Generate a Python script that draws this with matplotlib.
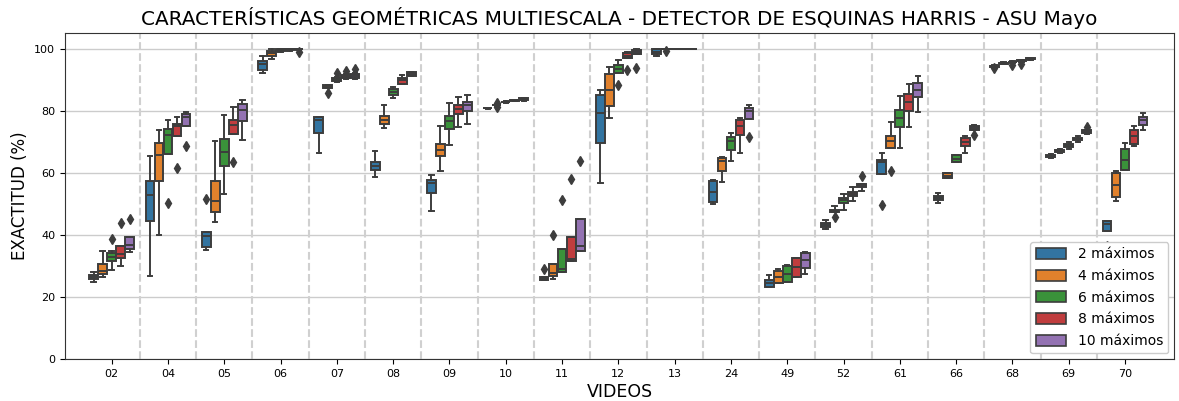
import matplotlib
matplotlib.use("Agg")
import matplotlib.pyplot as plt
from matplotlib.patches import Patch

# Videos on the x axis
videos = ["02", "04", "05", "06", "07", "08", "09", "10", "11", "12",
          "13", "24", "49", "52", "61", "66", "68", "69", "70"]

# Number of maxima per series
maxima = [2, 4, 6, 8, 10]
labels = ["2 máximos", "4 máximos", "6 máximos", "8 máximos", "10 máximos"]
colors = ["#3274a1", "#e1812c", "#3a923a", "#c03d3e", "#9372b2"]

# Box statistics per series (one value per video): lower whisker, Q1, median, Q3, upper whisker
whis_lo = {
    2:  [24.8, 26.8, 35.2, 92.2, 66.4, 58.6, 47.6, 80.6, 25.3, 56.7, 97.5, 50.0, 23.1, 42.0, 59.5, 50.2, 93.9, 64.9, 41.1],
    4:  [26.5, 40.0, 44.2, 96.7, 87.3, 74.4, 60.4, 81.6, 25.7, 77.5, 100.0, 57.0, 24.4, 47.2, 68.0, 58.3, 94.9, 66.2, 50.8],
    6:  [28.7, 66.0, 53.2, 98.9, 89.2, 84.1, 68.8, 82.6, 28.0, 92.0, 100.0, 63.7, 24.9, 48.1, 68.0, 63.3, 95.3, 67.8, 61.0],
    8:  [30.0, 71.8, 72.5, 99.3, 90.3, 88.5, 74.6, 83.0, 31.6, 96.9, 100.0, 66.5, 26.4, 51.0, 74.6, 66.4, 95.8, 69.9, 68.5],
    10: [34.6, 74.9, 70.6, 99.6, 90.3, 91.0, 75.7, 83.2, 34.8, 98.2, 100.0, 77.2, 27.3, 54.0, 79.5, 73.6, 96.4, 72.5, 73.9],
}
q1 = {
    2:  [25.9, 44.6, 36.0, 93.1, 72.8, 61.0, 53.6, 80.7, 25.3, 69.5, 98.1, 50.7, 23.3, 42.4, 59.5, 51.3, 94.1, 65.2, 41.1],
    4:  [27.4, 57.2, 47.3, 97.7, 87.3, 75.7, 65.3, 81.7, 26.8, 81.4, 100.0, 60.4, 24.4, 47.2, 68.0, 58.3, 95.0, 66.6, 52.2],
    6:  [31.6, 66.0, 62.2, 99.2, 89.4, 84.9, 74.1, 82.7, 28.0, 92.0, 100.0, 67.2, 24.9, 50.2, 74.6, 63.3, 95.5, 68.3, 61.0],
    8:  [32.5, 71.8, 72.5, 99.5, 90.5, 88.7, 78.9, 83.2, 31.6, 96.9, 100.0, 72.2, 26.4, 52.4, 80.0, 68.7, 95.9, 70.4, 69.3],
    10: [35.5, 74.9, 76.5, 99.8, 90.5, 91.0, 80.0, 83.4, 34.8, 98.2, 100.0, 77.2, 29.3, 55.3, 84.3, 73.6, 96.6, 72.9, 75.5],
}
median = {
    2:  [26.5, 52.9, 39.7, 94.9, 76.9, 62.3, 56.7, 80.8, 25.9, 79.3, 98.8, 53.8, 24.4, 43.1, 63.3, 51.9, 94.3, 65.5, 43.5],
    4:  [28.5, 65.6, 50.9, 98.4, 87.7, 77.1, 67.2, 81.8, 27.8, 86.8, 100.0, 63.9, 26.4, 47.6, 70.3, 59.1, 95.2, 67.0, 56.1],
    6:  [33.0, 72.3, 66.7, 99.5, 90.0, 85.9, 76.8, 82.8, 28.9, 93.4, 100.0, 70.1, 27.4, 51.1, 77.6, 64.4, 95.6, 68.8, 64.2],
    8:  [33.8, 74.9, 75.5, 99.7, 90.8, 89.8, 80.6, 83.3, 32.2, 97.5, 100.0, 75.2, 29.5, 53.1, 82.8, 69.9, 96.1, 70.9, 71.7],
    10: [36.8, 78.0, 80.1, 99.9, 91.2, 91.8, 81.7, 83.7, 36.5, 99.0, 100.0, 80.0, 31.9, 55.9, 86.8, 74.4, 96.7, 73.2, 76.9],
}
q3 = {
    2:  [27.0, 57.4, 41.0, 96.1, 78.0, 63.3, 57.8, 80.9, 26.5, 84.9, 99.7, 57.2, 25.3, 43.8, 64.2, 52.6, 94.5, 65.8, 44.3],
    4:  [30.5, 69.5, 57.4, 99.1, 88.2, 78.2, 69.3, 81.9, 30.5, 91.8, 100.0, 64.9, 28.2, 48.1, 71.7, 59.9, 95.4, 67.4, 59.9],
    6:  [34.1, 74.1, 71.0, 99.7, 90.5, 87.0, 78.2, 82.9, 35.5, 94.7, 100.0, 71.5, 29.8, 51.8, 80.3, 65.6, 95.8, 69.3, 67.6],
    8:  [36.5, 75.7, 77.1, 99.9, 91.6, 90.4, 81.8, 83.4, 39.3, 98.4, 100.0, 76.9, 32.4, 53.8, 85.4, 71.2, 96.3, 71.3, 73.9],
    10: [39.4, 78.9, 82.0, 100.0, 91.9, 92.4, 82.7, 84.1, 45.2, 99.5, 100.0, 81.0, 34.1, 56.5, 88.9, 75.2, 96.9, 73.6, 78.0],
}
whis_hi = {
    2:  [28.1, 65.5, 41.0, 97.5, 78.0, 66.9, 59.3, 81.0, 26.5, 86.5, 100.0, 57.7, 26.9, 44.8, 66.4, 53.5, 94.6, 66.0, 44.3],
    4:  [34.9, 73.9, 70.3, 99.7, 88.4, 81.7, 74.9, 82.0, 30.5, 94.0, 100.0, 65.2, 28.9, 49.4, 76.4, 59.9, 95.5, 67.8, 60.5],
    6:  [34.8, 77.1, 78.7, 100.0, 90.8, 87.6, 82.5, 83.0, 35.5, 96.2, 100.0, 72.8, 30.3, 53.1, 84.6, 65.6, 96.0, 70.0, 69.6],
    8:  [36.5, 78.0, 81.2, 100.0, 91.8, 91.6, 84.3, 83.5, 39.3, 98.9, 100.0, 77.6, 32.4, 55.4, 88.7, 71.7, 96.4, 71.8, 75.2],
    10: [39.4, 79.7, 83.5, 100.0, 92.0, 92.6, 85.1, 84.2, 45.2, 100.0, 100.0, 81.8, 34.5, 56.5, 91.1, 75.4, 97.0, 73.8, 79.3],
}
# Outliers per series, keyed by video
outliers = {
    2:  {"05": [51.4], "11": [29.0], "61": [49.5], "68": [93.7], "70": [36.5]},
    4:  {"07": [85.7], "10": [82.5, 81.2], "11": [39.8], "13": [99.1], "52": [45.6], "61": [60.7]},
    6:  {"02": [38.6], "04": [50.2], "07": [92.2], "11": [51.3], "12": [88.2], "68": [94.8]},
    8:  {"02": [43.8], "04": [61.4], "05": [63.3], "07": [92.9], "11": [58.1], "12": [93.0], "68": [94.9]},
    10: {"02": [45.1], "04": [68.6], "06": [98.9], "07": [93.4], "11": [63.9], "12": [93.8],
         "24": [71.4], "52": [58.8], "66": [72.3], "69": [74.6]},
}

fig = plt.figure(figsize=(11.79, 4.01), dpi=100)
ax = fig.add_axes([0.0551, 0.1047, 0.9407, 0.8130])

edge = "#3d3d3d"
n = len(maxima)
group_w = 0.8
box_w = group_w / n

for k, m in enumerate(maxima):
    offset = -group_w / 2 + box_w * (k + 0.5)
    stats = []
    for i, v in enumerate(videos):
        stats.append({
            "whislo": whis_lo[m][i], "q1": q1[m][i], "med": median[m][i],
            "q3": q3[m][i], "whishi": whis_hi[m][i],
            "fliers": outliers[m].get(v, []),
        })
    positions = [i + offset for i in range(len(videos))]
    ax.bxp(stats, positions=positions, widths=box_w * 0.98, patch_artist=True,
           showfliers=True, manage_ticks=False,
           boxprops=dict(facecolor=colors[k], edgecolor=edge, linewidth=1.4),
           medianprops=dict(color=edge, linewidth=1.4),
           whiskerprops=dict(color=edge, linewidth=1.4),
           capprops=dict(color=edge, linewidth=1.4),
           flierprops=dict(marker="d", markerfacecolor=edge, markeredgecolor=edge,
                           markersize=5, linestyle="none"),
           zorder=3)

# Separators between videos
for i in range(len(videos) - 1):
    ax.axvline(i + 0.5, color="#d0d0d0", linestyle="--", linewidth=1.5, zorder=1)

ax.set_xticks(range(len(videos)))
ax.set_xticklabels(videos)
ax.set_xlim(-0.83, 18.87)
ax.set_ylim(0, 105)
ax.set_yticks([0, 20, 40, 60, 80, 100])
ax.yaxis.grid(True, color="#cccccc", linewidth=1.0, zorder=0)
ax.set_axisbelow(True)
ax.tick_params(labelsize=8)
for s in ax.spines.values():
    s.set_color("#333333")

ax.set_title("CARACTERÍSTICAS GEOMÉTRICAS MULTIESCALA - DETECTOR DE ESQUINAS HARRIS - ASU Mayo",
             fontsize=14.4, pad=6)
ax.set_xlabel("VIDEOS", fontsize=12.5, labelpad=3)
ax.set_ylabel("EXACTITUD (%)", fontsize=12)

handles = [Patch(facecolor=c, edgecolor=edge, linewidth=1.2, label=l) for c, l in zip(colors, labels)]
ax.legend(handles=handles, loc="lower right", fontsize=10, framealpha=1.0,
          borderaxespad=0.4, handlelength=2.2, handleheight=0.85, labelspacing=0.55)

fig.savefig("out.png", dpi=100)
